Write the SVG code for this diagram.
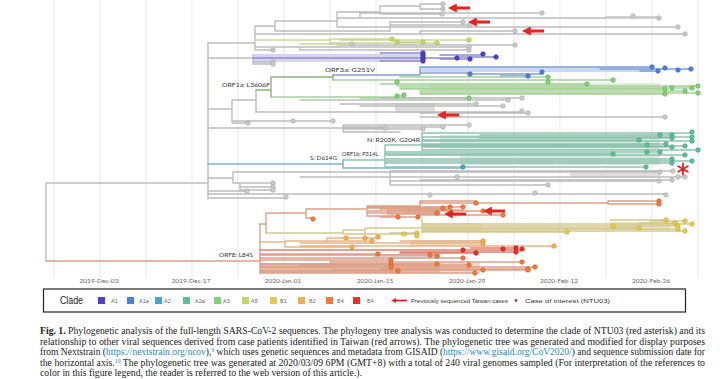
<svg xmlns="http://www.w3.org/2000/svg" width="720" height="379" viewBox="0 0 720 379">
<defs>
<style>
.grid{stroke:#e6e6e6;stroke-width:1}
.ax{font-family:Lato,"Liberation Sans",sans-serif;font-size:6.5px;fill:#666;text-anchor:middle}
.br{fill:none;stroke-linecap:round}
.gy{stroke:#bdbdbd;stroke-width:1.4}
.a5l{stroke:#cdd79a;stroke-width:1.4}
.a1l{stroke:#8e8acf;stroke-width:1.4}
.a1al{stroke:#7fa0d8;stroke-width:1.4}
.a3l{stroke:#a6d198;stroke-width:1.4}
.grl{stroke:#8db27c;stroke-width:1.4}
.a2l{stroke:#7fb4c6;stroke-width:1.6}
.a2al{stroke:#8fc2b0;stroke-width:1.4}
.sal{stroke:#dfa088;stroke-width:1.4}
.b1l{stroke:#d4c98e;stroke-width:1.4}
.b2l{stroke:#e6b48a;stroke-width:1.4}
.b4rl{stroke:#e0806e;stroke-width:1.4}
.tip circle{r:2.3;stroke-width:0.6}
.cg circle{fill:#c9c9c9;stroke:#a9a9a9}
.cA1 circle{fill:#4b40cf;stroke:#3a30a8}
.cA1a circle{fill:#4a7fde;stroke:#3566b8}
.cA2 circle{fill:#45a7c9;stroke:#3486a3}
.cA2a circle{fill:#5bbf9a;stroke:#46a07f}
.cA3 circle{fill:#80cf7a;stroke:#63b25d}
.cA5 circle{fill:#c4d863;stroke:#a3b84a}
.cB1 circle{fill:#e3cb4f;stroke:#c4ac36}
.cB2 circle{fill:#f2ad4f;stroke:#d39135}
.cB4 circle{fill:#ef7a3a;stroke:#cf6128}
.cB4r circle{fill:#e8302a;stroke:#c21e19}
.lbl{font-family:Lato,"Liberation Sans",sans-serif;font-size:6.5px;fill:#333}
.leg{font-family:"Liberation Sans Narrow","Liberation Sans",sans-serif;font-size:5.5px;fill:#666}
.cap{font-family:"Liberation Serif",serif;font-size:9.3px;fill:#222}
.lnk{fill:#1f8ab5}
</style>
<marker id="ah" viewBox="0 0 10 10" refX="2" refY="5" markerWidth="3" markerHeight="3" orient="auto-start-reverse"><path d="M0 0 L10 5 L0 10 z" fill="#e8231d"/></marker>
</defs>
<rect width="720" height="379" fill="#fff"/>
<g id="grid">
<path class="grid" d="M54 0V277M100 0V277M146 0V277M192 0V277M238 0V277M284 0V277M330 0V277M376 0V277M422 0V277M468 0V277M514 0V277M560 0V277M606 0V277M652 0V277M698 0V277"/>
</g>
<g id="axis">
<text class="ax" x="99" y="283">2019-Dec-03</text>
<text class="ax" x="191" y="283">2019-Dec-17</text>
<text class="ax" x="283" y="283">2020-Jan-01</text>
<text class="ax" x="375" y="283">2020-Jan-15</text>
<text class="ax" x="467" y="283">2020-Jan-29</text>
<text class="ax" x="559" y="283">2020-Feb-12</text>
<text class="ax" x="651" y="283">2020-Feb-26</text>
</g>
<g id="blocks">
<rect x="253" y="54" width="170" height="8" fill="#d6d4ee"/>
<rect x="420" y="67" width="232" height="5" fill="#cdd9f1"/>
<rect x="430" y="83" width="230" height="7" fill="#e0eeda"/>
<rect x="395" y="103" width="40" height="10" fill="#dcdcdc"/>
<rect x="605" y="16" width="55" height="3" fill="#cfcfcf"/>
<rect x="440" y="135" width="220" height="15" fill="#d6e8e1"/>
<rect x="460" y="153" width="200" height="12" fill="#d6e8e1"/>
<rect x="570" y="170" width="90" height="7" fill="#dedede"/>
<rect x="387" y="207" width="53" height="8" fill="#e6b9a5"/>
<rect x="422" y="223" width="60" height="9" fill="#ebe5c6"/>
<rect x="610" y="222" width="60" height="8" fill="#ece6c6"/>
<rect x="410" y="240" width="70" height="6" fill="#efd6bd"/>
<rect x="373" y="254" width="67" height="4" fill="#d8d0cc"/>
<rect x="260" y="263" width="180" height="10" fill="#e2b7a3"/>
<rect x="440" y="263" width="40" height="10" fill="#f0d7cb"/>
</g>
<g id="connectors">
<path class="br gy" stroke-width="4" d="M46 183V261M46 183H208"/>
<path class="br sal" stroke-width="4" d="M46 261H260"/>
<path class="br gy" stroke-width="3" d="M208 43V199"/>
<path class="br gy" d="M208 43H255M255 26V50M255 26H275M275 21V31M275 21H337M337 12V27M337 12H380M380 6V14M380 6H420M420 4V9M420 4H443M420 9H443M380 14H442M360 13V18M360 13H542M337 18H605M337 27H678M275 31H390M390 22V31M390 22H463M390 25H470M255 34H653M653 34H685M420 31V34M420 31H515M255 47H469M300 50H469M300 47V50M255 50H273M337 45H515M208 58H253M253 55V64M253 62H273M253 64H273"/>
<path class="br a5l" d="M255 40H330M330 39V43M330 39H392M330 43H437M397 42H423M340 40H469M300 44H352"/>
<path class="br a1l" d="M253 58H423M423 58H457M440 59H470M440 55H483M460 57H496M380 61H423M380 53H423"/>
<path class="br gy" d="M208 109H232M232 100V121M232 100H256M256 90V112"/>
<path class="br grl" d="M256 90H271M271 77V97M271 77H333M333 75V80"/>
<path class="br a1al" d="M333 75H420M420 67V75M420 67H652M600 69H691M640 71H658M420 73H470M470 74H542M500 76H528"/>
<path class="br a3l" d="M333 80H548M400 77H548M360 80H613M380 84H587M397 86H698M400 88H692M400 89H665M420 91H685M420 93H698M420 94H665M271 97H397M397 96H404M360 98H469"/>
<path class="br gy" d="M256 112H522M300 100H508M380 98H522M340 104H476M360 106H503M420 113H528M420 117H665M232 121H333M232 123H248M270 121H293M208 128H343M343 125V132M343 125H469M343 127H443M343 129H423M343 128H385M343 132H400"/>
<path class="br a2l" d="M208 164H343M343 160V168M343 168H463"/>
<path class="br a2al" d="M343 160H385M385 145V167M385 145H422M422 133V150M422 133H692M480 135H672M480 138H672M422 137H692M422 141H692M422 140H639M422 145H647M422 144H666M422 147H672M422 146H685M422 150H698M385 152H660M385 154H613M385 155H685M385 159H672M385 161H692M385 163H672M385 167H646"/>
<path class="br gy" d="M208 178H233M233 172V183M233 172H390M390 171V185M390 171H673M390 172H660M420 177H685M420 180H672M390 181H659M390 185H548M300 177H457M233 183H273M240 187H273M240 190H273M240 183V190M208 191H247M208 198H286M208 194H666"/>
<path class="br sal" stroke-width="3" d="M260 224V273"/>
<path class="br sal" d="M260 224H266M266 213V233M266 213H306M306 209V218M306 218H313M306 209H367M367 206V216M367 206H420M420 201V206M420 201H476M420 203H608M608 201V204M608 201H659M608 204H659M367 208H443M367 207H463M380 209H450M367 211H483M420 215H503M367 213H437M367 216H398M380 217H418M400 210H463"/>
<path class="br b1l" d="M266 233H343M343 230V234M343 234H404M343 230H365M365 228V234M365 234H417M390 233H417M365 228H422M422 220V232M610 220H666M422 224H692M640 223H675M650 221H685M422 226H678M422 229H678M422 231H685M422 228H639M422 232H567"/>
<path class="br b2l" d="M260 242H285M285 241V247M285 241H327M327 238V242M327 238H378M327 241H372M285 247H352M300 243H483M400 241H483M300 246H554"/>
<path class="br b4rl" d="M260 250H522M400 252H516M400 253H476M470 248H516"/>
<path class="br sal" d="M260 254H378M260 255H437M260 258H463M260 260H391M260 264H391M300 264H437M300 265H469M330 262H522M330 267H535M380 269H528M330 270H483M260 271H398M260 267H391M260 273H475M390 270H528"/>
</g>
<g id="tips-gray" class="tip cg">
<circle cx="443" cy="4"/><circle cx="443" cy="9"/><circle cx="442" cy="14"/><circle cx="542" cy="13"/><circle cx="633" cy="16"/><circle cx="659" cy="18"/><circle cx="463" cy="22"/><circle cx="470" cy="25"/><circle cx="678" cy="27"/><circle cx="515" cy="31"/><circle cx="685" cy="34"/><circle cx="515" cy="45"/><circle cx="469" cy="47"/><circle cx="469" cy="50"/><circle cx="273" cy="50"/><circle cx="352" cy="44"/><circle cx="273" cy="62"/><circle cx="273" cy="64"/>
<circle cx="508" cy="100"/><circle cx="522" cy="98"/><circle cx="476" cy="104"/><circle cx="503" cy="106"/><circle cx="522" cy="111"/><circle cx="528" cy="113"/><circle cx="665" cy="117"/><circle cx="333" cy="121"/><circle cx="293" cy="121"/><circle cx="248" cy="123"/><circle cx="469" cy="125"/><circle cx="443" cy="127"/><circle cx="423" cy="129"/><circle cx="385" cy="128"/>
<circle cx="673" cy="171"/><circle cx="660" cy="172"/><circle cx="678" cy="177"/><circle cx="685" cy="177"/><circle cx="672" cy="180"/><circle cx="659" cy="181"/><circle cx="548" cy="185"/><circle cx="457" cy="177"/><circle cx="273" cy="183"/><circle cx="273" cy="187"/><circle cx="273" cy="190"/><circle cx="247" cy="191"/><circle cx="286" cy="197"/><circle cx="430" cy="195"/><circle cx="535" cy="193"/><circle cx="666" cy="195"/>
</g>
<g id="tips-A5" class="tip cA5"><circle cx="392" cy="39"/><circle cx="397" cy="42"/><circle cx="423" cy="42"/><circle cx="437" cy="43"/><circle cx="469" cy="40"/></g>
<g id="tips-A1" class="tip cA1"><circle cx="423" cy="53"/><circle cx="423" cy="55"/><circle cx="423" cy="57"/><circle cx="423" cy="59"/><circle cx="423" cy="61"/><circle cx="457" cy="58"/><circle cx="470" cy="59"/><circle cx="483" cy="54"/><circle cx="496" cy="57"/></g>
<g id="tips-A1a" class="tip cA1a"><circle cx="652" cy="67"/><circle cx="658" cy="71"/><circle cx="665" cy="68"/><circle cx="678" cy="70"/><circle cx="691" cy="69"/><circle cx="470" cy="74"/><circle cx="528" cy="76"/><circle cx="542" cy="72"/></g>
<g id="tips-A3" class="tip cA3"><circle cx="397" cy="82"/><circle cx="548" cy="77"/><circle cx="548" cy="82"/><circle cx="613" cy="80"/><circle cx="587" cy="84"/><circle cx="698" cy="86"/><circle cx="692" cy="88"/><circle cx="672" cy="88"/><circle cx="665" cy="89"/><circle cx="685" cy="91"/><circle cx="698" cy="93"/><circle cx="665" cy="94"/><circle cx="397" cy="96"/><circle cx="404" cy="95"/><circle cx="469" cy="98"/></g>
<g id="tips-A2" class="tip cA2"><circle cx="463" cy="167"/></g>
<g id="tips-A2a" class="tip cA2a"><circle cx="692" cy="132"/><circle cx="660" cy="135"/><circle cx="672" cy="135"/><circle cx="672" cy="138"/><circle cx="692" cy="137"/><circle cx="692" cy="141"/><circle cx="639" cy="140"/><circle cx="647" cy="145"/><circle cx="666" cy="144"/><circle cx="672" cy="147"/><circle cx="685" cy="146"/><circle cx="698" cy="150"/><circle cx="647" cy="152"/><circle cx="613" cy="154"/><circle cx="660" cy="152"/><circle cx="685" cy="155"/><circle cx="672" cy="159"/><circle cx="692" cy="161"/><circle cx="672" cy="163"/><circle cx="646" cy="167"/></g>
<g id="tips-B4" class="tip cB4"><circle cx="313" cy="219"/><circle cx="476" cy="203"/><circle cx="659" cy="201"/><circle cx="659" cy="204"/><circle cx="443" cy="208"/><circle cx="450" cy="207"/><circle cx="463" cy="207"/><circle cx="483" cy="211"/><circle cx="503" cy="215"/><circle cx="437" cy="213"/><circle cx="398" cy="217"/><circle cx="418" cy="217"/>
<circle cx="378" cy="254"/><circle cx="430" cy="255"/><circle cx="437" cy="256"/><circle cx="463" cy="258"/><circle cx="391" cy="260"/><circle cx="391" cy="264"/><circle cx="437" cy="264"/><circle cx="469" cy="265"/><circle cx="522" cy="262"/><circle cx="535" cy="267"/><circle cx="528" cy="269"/><circle cx="483" cy="270"/><circle cx="398" cy="271"/><circle cx="391" cy="267"/><circle cx="475" cy="273"/><circle cx="528" cy="270"/></g>
<g id="tips-B1" class="tip cB1"><circle cx="666" cy="220"/><circle cx="675" cy="223"/><circle cx="685" cy="221"/><circle cx="692" cy="224"/><circle cx="678" cy="226"/><circle cx="678" cy="229"/><circle cx="685" cy="231"/><circle cx="613" cy="226"/><circle cx="639" cy="228"/><circle cx="567" cy="232"/><circle cx="404" cy="234"/><circle cx="417" cy="233"/><circle cx="417" cy="236"/></g>
<g id="tips-B2" class="tip cB2"><circle cx="346" cy="238"/><circle cx="365" cy="238"/><circle cx="378" cy="237"/><circle cx="372" cy="241"/><circle cx="352" cy="247"/><circle cx="483" cy="241"/><circle cx="483" cy="244"/><circle cx="554" cy="246"/></g>
<g id="tips-B4r" class="tip cB4r"><circle cx="463" cy="250"/><circle cx="503" cy="249"/><circle cx="516" cy="248"/><circle cx="516" cy="252"/><circle cx="522" cy="249"/><circle cx="476" cy="253"/></g>
<g id="arrows" stroke="#e8231d" stroke-width="3" fill="none">
<path d="M470 8H455" marker-end="url(#ah)"/>
<path d="M490 22H475" marker-end="url(#ah)"/>
<path d="M544 31H529" marker-end="url(#ah)"/>
<path d="M459 115H444" marker-end="url(#ah)"/>
<path d="M505 211H490" marker-end="url(#ah)"/>
<path d="M466 214H451" marker-end="url(#ah)"/>
</g>
<g id="asterisk" stroke="#e8231d" stroke-width="1.8" stroke-linecap="round">
<path d="M683 163.5V174.5M678.2 166.2L687.8 171.8M678.2 171.8L687.8 166.2"/>
</g>
<g id="mutation-labels">
<text class="lbl" x="325" y="71.5" textLength="50" lengthAdjust="spacingAndGlyphs">ORF3a: G251V</text>
<text class="lbl" x="222" y="86.5" textLength="48" lengthAdjust="spacingAndGlyphs">ORF1a: L3606F</text>
<text class="lbl" x="367" y="141.5" textLength="53" lengthAdjust="spacingAndGlyphs">N: R203K, G204R</text>
<text class="lbl" x="342" y="155.5" textLength="36" lengthAdjust="spacingAndGlyphs">ORF1b: P314L</text>
<text class="lbl" x="310" y="159.5" textLength="27" lengthAdjust="spacingAndGlyphs">S: D614G</text>
<text class="lbl" x="219" y="256.5" textLength="34" lengthAdjust="spacingAndGlyphs">ORF8: L84S</text>
</g>
<g id="legend">
<rect x="43.5" y="289" width="642" height="23" fill="#fff" stroke="#222" stroke-width="1.2"/>
<text x="60" y="304" font-family="'Liberation Sans Narrow','Liberation Sans',sans-serif" font-size="11" fill="#222" textLength="23" lengthAdjust="spacingAndGlyphs">Clade</text>
<rect x="98" y="297" width="7" height="7" fill="#4b40cf"/><text class="leg" x="111" y="302.5">A1</text>
<rect x="127" y="297" width="7" height="7" fill="#4a7fde"/><text class="leg" x="139" y="302.5">A1a</text>
<rect x="155" y="297" width="7" height="7" fill="#45a7c9"/><text class="leg" x="164" y="302.5">A2</text>
<rect x="183" y="297" width="7" height="7" fill="#5bbf9a"/><text class="leg" x="195" y="302.5">A2a</text>
<rect x="214" y="297" width="7" height="7" fill="#80cf7a"/><text class="leg" x="223" y="302.5">A3</text>
<rect x="242" y="297" width="7" height="7" fill="#c4d863"/><text class="leg" x="251" y="302.5">A5</text>
<rect x="270" y="297" width="7" height="7" fill="#e3cb4f"/><text class="leg" x="280" y="302.5">B1</text>
<rect x="298" y="297" width="7" height="7" fill="#f2ad4f"/><text class="leg" x="309" y="302.5">B2</text>
<rect x="326" y="297" width="7" height="7" fill="#ef7a3a"/><text class="leg" x="337" y="302.5">B4</text>
<rect x="353" y="297" width="7" height="7" fill="#e8302a"/><text class="leg" x="367" y="302.5">B4</text>
<path d="M407 300.5H395" stroke="#c8161d" stroke-width="1.6" marker-end="url(#ah)"/>
<text class="leg" x="411" y="302.5" style="fill:#333" textLength="97" lengthAdjust="spacingAndGlyphs">Previously sequenced  Taiwan cases</text>
<circle cx="516" cy="300.5" r="1.4" fill="#e8302a"/>
<text class="leg" x="525" y="302.5" style="fill:#333" textLength="85" lengthAdjust="spacingAndGlyphs">Case of interest (NTU03)</text>
</g>
<g id="caption">
<text class="cap" x="40" y="334" textLength="665" lengthAdjust="spacingAndGlyphs"><tspan font-weight="bold">Fig. 1.</tspan> Phylogenetic analysis of the full-length SARS-CoV-2 sequences. The phylogeny tree analysis was conducted to determine the clade of NTU03 (red asterisk) and its</text>
<text class="cap" x="40" y="344.5" textLength="665" lengthAdjust="spacingAndGlyphs">relationship to other viral sequences derived from case patients identified in Taiwan (red arrows). The phylogenetic tree was generated and modified for display purposes</text>
<text class="cap" x="40" y="355" textLength="665" lengthAdjust="spacingAndGlyphs">from Nextstrain (<tspan class="lnk">https://nextstrain.org/ncov</tspan>),<tspan class="lnk" font-size="5.5" dy="-2.8">9</tspan><tspan dy="2.8"> which uses genetic sequences and metadata from GISAID (</tspan><tspan class="lnk">https://www.gisaid.org/CoV2020/</tspan>) and sequence submission date for</text>
<text class="cap" x="40" y="365.5" textLength="665" lengthAdjust="spacingAndGlyphs">the horizontal axis.<tspan class="lnk" font-size="5.5" dy="-2.8">10</tspan><tspan dy="2.8"> The phylogenetic tree was generated at 2020/03/09 6PM (GMT+8) with a total of 240 viral genomes sampled (For interpretation of the references to</tspan></text>
<text class="cap" x="40" y="375.5" textLength="322" lengthAdjust="spacingAndGlyphs">color in this figure legend, the reader is referred to the web version of this article.).</text>
</g>
</svg>
